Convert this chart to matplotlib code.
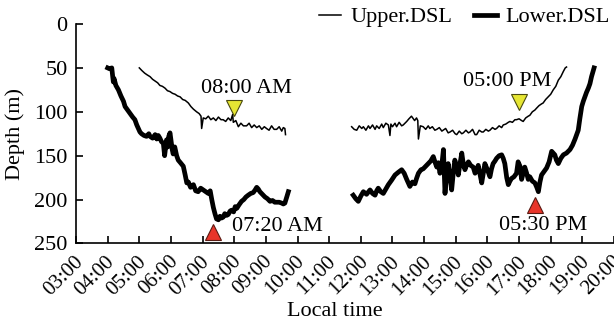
import matplotlib.pyplot as plt
import matplotlib.transforms as mtransforms
from matplotlib.lines import Line2D

plt.rcParams['font.family'] = ['Liberation Serif', 'DejaVu Serif']
plt.rcParams['font.size'] = 16

# Upper DSL, morning descent (hours, depth in m)
upper_am_t = [5.00, 5.08, 5.17, 5.25, 5.34, 5.42, 5.50, 5.58, 5.65, 5.73, 5.81, 5.89,
              5.97, 6.05, 6.13, 6.21, 6.29, 6.37, 6.45, 6.55, 6.63, 6.71, 6.81, 6.89,
              6.95, 6.97, 7.02, 7.10, 7.18, 7.26, 7.34, 7.42, 7.50, 7.58, 7.65, 7.73,
              7.81, 7.89, 7.95, 7.97, 8.05, 8.13, 8.21, 8.29, 8.39, 8.47, 8.55, 8.63,
              8.71, 8.79, 8.87, 8.95, 9.02, 9.10, 9.18, 9.26, 9.34, 9.42, 9.50, 9.55,
              9.60, 9.62]
upper_am_d = [50, 53, 56, 58, 60, 63, 65, 67, 70, 71, 73, 76,
              77, 79, 80, 82, 83, 86, 87, 90, 94, 97, 100, 102,
              105, 119, 107, 108, 105, 109, 107, 110, 106, 109, 109, 111,
              107, 110, 103, 112, 110, 117, 113, 116, 116, 113, 118, 115,
              118, 116, 120, 117, 119, 121, 116, 120, 120, 117, 122, 118,
              119, 126]

# Upper DSL, afternoon ascent
upper_pm_t = [11.71, 11.79, 11.87, 11.95, 12.03, 12.08, 12.16, 12.24, 12.29, 12.37,
              12.45, 12.50, 12.58, 12.66, 12.71, 12.79, 12.87, 12.92, 12.95, 13.00,
              13.08, 13.13, 13.21, 13.29, 13.34, 13.45, 13.52, 13.60, 13.66, 13.70,
              13.76, 13.80, 13.82, 13.88, 13.97, 14.05, 14.13, 14.18, 14.26, 14.34,
              14.40, 14.48, 14.56, 14.60, 14.68, 14.76, 14.82, 14.90, 14.98, 15.03,
              15.11, 15.19, 15.24, 15.32, 15.40, 15.45, 15.53, 15.61, 15.66, 15.74,
              15.82, 15.87, 15.95, 16.03, 16.08, 16.16, 16.24, 16.29, 16.37, 16.45,
              16.50, 16.58, 16.66, 16.71, 16.79, 16.87, 16.92, 17.00, 17.08, 17.13,
              17.21, 17.29, 17.34, 17.42, 17.50, 17.55, 17.63, 17.71, 17.76, 17.84,
              17.92, 18.00, 18.08, 18.16, 18.24, 18.32, 18.40, 18.46, 18.50]
upper_pm_d = [117, 120, 121, 116, 119, 117, 121, 116, 119, 115,
              120, 116, 119, 114, 118, 113, 115, 127, 114, 117,
              113, 117, 112, 116, 115, 111, 108, 105, 108, 110,
              107, 110, 131, 116, 117, 120, 116, 119, 117, 121,
              120, 118, 122, 121, 119, 124, 123, 121, 125, 126,
              122, 125, 124, 121, 124, 123, 120, 126, 126, 121,
              123, 123, 120, 122, 121, 118, 120, 119, 116, 118,
              115, 114, 112, 111, 112, 109, 109, 108, 110, 111,
              107, 105, 104, 100, 98, 96, 93, 91, 90, 86,
              83, 80, 75, 71, 64, 60, 54, 50, 49]

# Lower DSL, morning descent
lower_am_t = [4.00, 4.06, 4.13, 4.16, 4.18, 4.20, 4.26, 4.34, 4.42, 4.50, 4.55, 4.63,
              4.71, 4.79, 4.86, 4.92, 4.97, 5.02, 5.07, 5.15, 5.23, 5.30, 5.34, 5.42,
              5.50, 5.55, 5.60, 5.65, 5.70, 5.76, 5.80, 5.86, 5.90, 5.93, 5.97, 6.00,
              6.04, 6.07, 6.12, 6.18, 6.23, 6.30, 6.39, 6.45, 6.50, 6.55, 6.62, 6.71,
              6.78, 6.86, 6.94, 7.02, 7.10, 7.18, 7.24, 7.29, 7.34, 7.39, 7.44, 7.50,
              7.55, 7.60, 7.65, 7.70, 7.76, 7.81, 7.87, 7.92, 7.98, 8.03, 8.08, 8.15,
              8.23, 8.30, 8.37, 8.44, 8.52, 8.60, 8.66, 8.71, 8.76, 8.81, 8.89, 8.97,
              9.05, 9.13, 9.21, 9.28, 9.34, 9.42, 9.50, 9.55, 9.60, 9.66, 9.71]
lower_am_d = [50, 51, 50, 60, 66, 62, 70, 75, 82, 88, 94, 98,
              102, 106, 109, 115, 119, 123, 125, 127, 128, 125, 128, 130,
              126, 131, 127, 130, 134, 136, 150, 132, 140, 128, 124, 132,
              143, 148, 140, 150, 155, 158, 162, 172, 181, 180, 186, 183,
              190, 191, 187, 189, 191, 193, 190, 200, 209, 216, 222, 223,
              219, 221, 220, 216, 218, 217, 213, 212, 214, 208, 210, 206,
              202, 200, 197, 195, 193, 192, 189, 186, 188, 191, 194, 197,
              199, 202, 201, 203, 203, 203, 204, 205, 204, 197, 191]

# Lower DSL, afternoon ascent
lower_pm_t = [11.76, 11.84, 11.92, 12.00, 12.08, 12.18, 12.29, 12.37, 12.45, 12.50,
              12.55, 12.63, 12.71, 12.79, 12.87, 12.97, 13.08, 13.18, 13.29, 13.37,
              13.45, 13.55, 13.63, 13.71, 13.76, 13.82, 13.90, 13.97, 14.05, 14.13,
              14.21, 14.29, 14.35, 14.40, 14.45, 14.50, 14.55, 14.61, 14.66, 14.71,
              14.76, 14.82, 14.87, 14.92, 14.97, 15.03, 15.08, 15.13, 15.19, 15.24,
              15.29, 15.35, 15.40, 15.47, 15.55, 15.61, 15.66, 15.71, 15.77, 15.82,
              15.87, 15.92, 16.00, 16.08, 16.13, 16.18, 16.24, 16.29, 16.37, 16.45,
              16.50, 16.55, 16.61, 16.66, 16.71, 16.76, 16.84, 16.92, 16.97, 17.03,
              17.08, 17.13, 17.18, 17.24, 17.29, 17.34, 17.42, 17.50, 17.56, 17.61,
              17.66, 17.71, 17.79, 17.87, 17.95, 18.03, 18.08, 18.13, 18.18, 18.24,
              18.32, 18.40, 18.50, 18.61, 18.69, 18.77, 18.82, 18.87, 18.92, 18.98,
              19.03, 19.08, 19.13, 19.19, 19.24, 19.29, 19.33, 19.37]
lower_pm_d = [195, 199, 202, 196, 191, 194, 189, 193, 195, 190,
              187, 191, 193, 188, 183, 178, 172, 169, 166, 170,
              177, 185, 180, 182, 176, 170, 166, 165, 162, 159,
              156, 151, 158, 163, 158, 170, 164, 143, 193, 170,
              159, 176, 189, 170, 155, 162, 172, 160, 147, 160,
              166, 160, 157, 161, 163, 170, 166, 161, 172, 181,
              170, 159, 166, 174, 165, 159, 156, 153, 150, 149,
              153, 159, 175, 183, 179, 176, 174, 170, 157, 162,
              177, 170, 163, 170, 177, 174, 179, 181, 186, 191,
              180, 172, 168, 164, 157, 145, 147, 149, 155, 159,
              153, 149, 147, 143, 138, 131, 126, 121, 108, 94,
              88, 83, 78, 73, 68, 60, 55, 50]

# Event markers: time of day and depth
sunrise_t, sunrise_d = 7 + 20 / 60, 237
upper_down_t, upper_down_d = 8.0, 96
upper_up_t, upper_up_d = 17.0, 89
lower_up_t, lower_up_d = 17.5, 206

hour_ticks = list(range(3, 21))
hour_labels = [f'{h:02d}:00' for h in hour_ticks]
depth_ticks = [0, 50, 100, 150, 200, 250]

fig = plt.figure(figsize=(6.14, 3.22), dpi=100)
ax = fig.add_axes([0.1238, 0.2438, 0.8762, 0.6817])

ax.plot(upper_am_t, upper_am_d, color='black', lw=1.1)
ax.plot(upper_pm_t, upper_pm_d, color='black', lw=1.1)
ax.plot(lower_am_t, lower_am_d, color='black', lw=3.4)
ax.plot(lower_pm_t, lower_pm_d, color='black', lw=3.4)

red = '#e8352a'
yellow = '#e6e633'
ax.plot(sunrise_t, sunrise_d, marker='^', ms=12, color=red, mec='#5a1a12', mew=0.8, clip_on=False)
ax.plot(lower_up_t, lower_up_d, marker='^', ms=12, color=red, mec='#5a1a12', mew=0.8)
ax.plot(upper_down_t, upper_down_d, marker='v', ms=12, color=yellow, mec='#4a4a10', mew=0.8)
ax.plot(upper_up_t, upper_up_d, marker='v', ms=12, color=yellow, mec='#4a4a10', mew=0.8)

ax.text(7.93, 231, '07:20 AM', ha='left', va='center')
ax.text(8.37, 74, '08:00 AM', ha='center', va='center')
ax.text(16.62, 66, '05:00 PM', ha='center', va='center')
ax.text(17.76, 229, '05:30 PM', ha='center', va='center')

ax.set_xlim(3, 20)
ax.set_ylim(250, 0)
ax.set_xticks(hour_ticks)
ax.set_xticklabels(hour_labels, rotation=45, ha='right', va='center',
                   rotation_mode='anchor', fontsize=15)
ax.set_yticks(depth_ticks)
ax.tick_params(direction='in', length=5, width=1.2, pad=6)
ax.tick_params(axis='x', pad=11)

# nudge the slanted hour labels a little to the right
shift = mtransforms.ScaledTranslation(3 / 72, 0, fig.dpi_scale_trans)
for lbl in ax.get_xticklabels():
    lbl.set_transform(lbl.get_transform() + shift)

for side in ['top', 'right']:
    ax.spines[side].set_visible(False)
for side in ['left', 'bottom']:
    ax.spines[side].set_linewidth(1.2)

ax.set_xlabel('Local time')
ax.xaxis.set_label_coords(0.481, -0.265)
ax.set_ylabel('Depth (m)')
ax.yaxis.set_label_coords(-0.095, 0.5)

handles = [Line2D([], [], color='black', lw=1.1), Line2D([], [], color='black', lw=3.4)]
fig.legend(handles, ['Upper.DSL', 'Lower.DSL'], ncol=2, frameon=False,
           loc='center right', bbox_to_anchor=(0.993, 0.947),
           handlelength=1.0, handletextpad=0.4, columnspacing=1.0,
           borderpad=0, borderaxespad=0)

fig.savefig('out.png', dpi=100)
